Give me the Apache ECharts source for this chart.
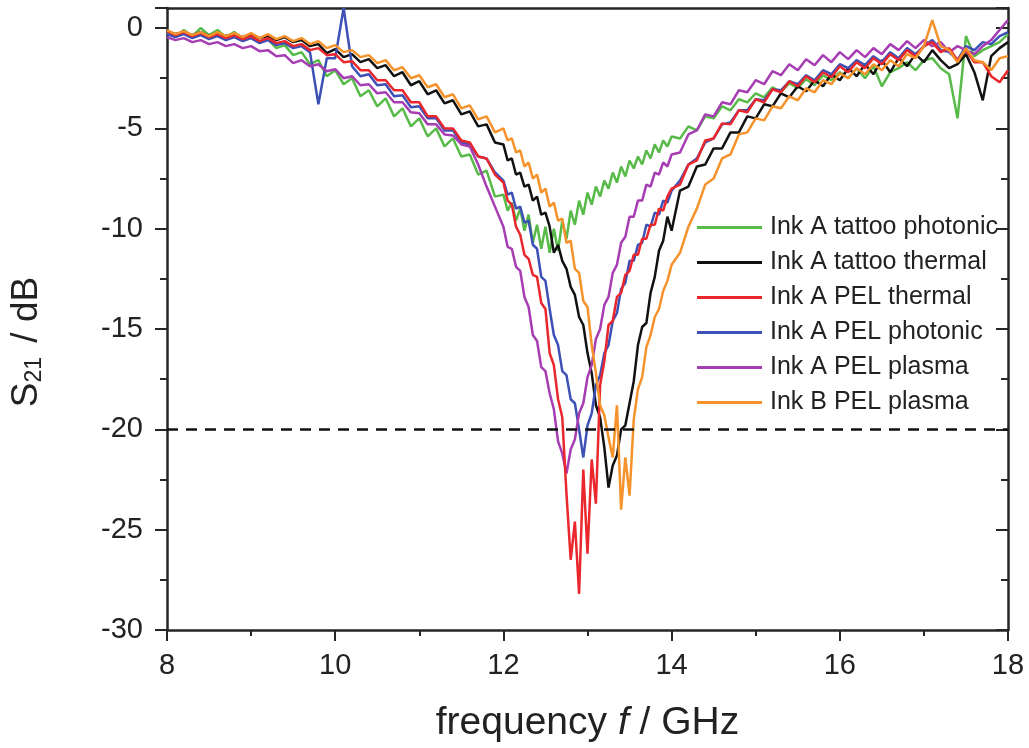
<!DOCTYPE html>
<html lang="en">
<head>
    <meta charset="UTF-8">
    <title>S21 vs frequency</title>
    <script src="https://cdn.jsdelivr.net/npm/echarts@6/dist/echarts.min.js"></script>
    <style>
        html, body { margin: 0; padding: 0; background: #fff; }
    </style>
</head>
<body>
<div id="main" style="width: 1029px;height:748px;"></div>
<script type="text/javascript">
    // frequency grid in GHz (denser around the resonance)
    var freq = [
        8.0, 8.1, 8.2, 8.3, 8.4, 8.5, 8.6, 8.7, 8.8, 8.9,
        9.0, 9.1, 9.2, 9.3, 9.4, 9.5, 9.6, 9.7, 9.8, 9.9,
        10.0, 10.1, 10.2, 10.3, 10.4, 10.5, 10.6, 10.7, 10.8, 10.9,
        11.0, 11.1, 11.2, 11.3, 11.4, 11.5, 11.6, 11.7, 11.8, 11.9,
        12.0, 12.05, 12.1, 12.15, 12.2, 12.25, 12.3, 12.35, 12.4, 12.45,
        12.5, 12.55, 12.6, 12.65, 12.7, 12.75, 12.8, 12.85, 12.9, 12.95,
        13.0, 13.05, 13.1, 13.15, 13.2, 13.25, 13.3, 13.35, 13.4, 13.45,
        13.5, 13.55, 13.6, 13.65, 13.7, 13.75, 13.8, 13.85, 13.9, 13.95,
        14.0, 14.1, 14.2, 14.3, 14.4, 14.5, 14.6, 14.7, 14.8, 14.9,
        15.0, 15.1, 15.2, 15.3, 15.4, 15.5, 15.6, 15.7, 15.8, 15.9,
        16.0, 16.1, 16.2, 16.3, 16.4, 16.5, 16.6, 16.7, 16.8, 16.9,
        17.0, 17.1, 17.2, 17.3, 17.4, 17.5, 17.6, 17.7, 17.8, 17.9,
        18.0
    ];

    // S21 in dB, one array per sample
    var tattooPhotonic = [
        -0.2, -0.45, -0.1, -0.4, 0.0, -0.35, -0.1, -0.45, -0.2, -0.55,
        -0.35, -0.7, -0.55, -1.0, -0.85, -1.35, -1.2, -1.8, -1.6, -2.4,
        -2.1, -2.8, -2.5, -3.4, -3.1, -3.9, -3.5, -4.4, -4.0, -4.9,
        -4.5, -5.4, -5.0, -5.9, -5.5, -6.4, -6.3, -7.3, -7.1, -8.4,
        -8.3, -9.1, -8.7, -9.6, -9.0, -10.1, -9.3, -10.7, -9.8, -11.0,
        -9.9, -11.2, -10.0, -11.1, -9.6, -10.5, -9.1, -9.8, -8.6, -9.3,
        -8.2, -8.8, -7.9, -8.4, -7.6, -8.0, -7.2, -7.7, -6.9, -7.4,
        -6.6, -7.0, -6.4, -6.8, -6.1, -6.5, -5.8, -6.2, -5.6, -5.9,
        -5.4, -5.5, -4.9, -5.1, -4.4, -4.5, -3.9, -4.1, -3.55, -3.7,
        -3.25, -3.45, -2.95, -3.2, -2.75, -3.0, -2.55, -2.85, -2.35, -2.6,
        -2.2, -2.5, -2.0, -2.5, -1.9, -2.9, -2.2, -2.0, -1.7, -2.1,
        -1.6, -1.5, -2.0, -2.3, -4.5, -0.4, -1.4, -1.1, -0.9, -0.7,
        -0.3
    ];
    var tattooThermal = [
        -0.15, -0.3, -0.2, -0.35, -0.2, -0.4, -0.25, -0.4, -0.3, -0.45,
        -0.3, -0.5, -0.4, -0.6, -0.45, -0.7, -0.6, -0.9, -0.8, -1.25,
        -1.05, -1.45, -1.3, -1.7, -1.55, -2.0, -1.85, -2.4, -2.2, -2.85,
        -2.65, -3.3, -3.1, -3.75, -3.6, -4.3, -4.15, -4.9, -4.8, -5.7,
        -5.8, -6.6, -6.5, -7.3, -7.2, -7.9, -7.8, -8.6, -8.4, -9.3,
        -9.2, -9.9, -11.2, -10.8, -11.6, -12.0, -12.9, -13.3, -14.4, -14.8,
        -16.2, -17.2, -18.8, -19.4, -20.9, -22.9, -21.8, -21.3, -20.0, -19.8,
        -18.7, -17.6, -15.8, -14.9, -14.7, -13.2, -12.4, -11.1, -10.6, -9.4,
        -10.1, -8.1, -7.9, -6.9, -6.8, -6.0, -6.0, -5.2, -5.2, -4.4,
        -4.5, -3.8, -3.9, -3.25, -3.45, -2.9, -3.15, -2.6, -2.9, -2.3,
        -2.6, -2.0, -2.4, -1.8, -2.3, -1.6, -2.2, -1.5, -1.9, -1.3,
        -1.7, -1.1, -1.6, -2.0, -1.8, -1.3, -2.2, -3.6, -1.4, -1.0,
        -0.7
    ];
    var pelThermal = [
        -0.15, -0.35, -0.2, -0.4, -0.25, -0.45, -0.3, -0.5, -0.35, -0.55,
        -0.4, -0.65, -0.5, -0.75, -0.65, -0.9, -0.8, -1.1, -1.0, -1.35,
        -1.3, -1.7, -1.65, -2.1, -2.1, -2.6, -2.6, -3.1, -3.1, -3.7,
        -3.7, -4.4, -4.4, -5.0, -5.0, -5.6, -5.7, -6.4, -6.5, -7.3,
        -7.7, -8.6, -8.8, -9.9, -10.3, -11.3, -11.5, -12.3, -12.4, -13.7,
        -14.0, -16.2, -16.8, -18.5, -19.4, -23.2, -26.5, -24.6, -28.2, -22.0,
        -26.2, -21.5, -23.7, -17.8, -16.6, -14.8, -14.6, -13.4, -13.2, -12.3,
        -12.1, -11.3, -11.3, -10.5, -10.5, -9.8, -9.8, -9.0, -9.1, -8.4,
        -8.0, -7.8, -6.8, -6.6, -5.6, -5.5, -4.75, -4.8, -4.1, -4.2,
        -3.55, -3.7, -3.05, -3.2, -2.65, -2.9, -2.4, -2.7, -2.2, -2.45,
        -1.9, -2.2, -1.7, -2.0, -1.5, -1.8, -1.3, -1.6, -1.1, -1.4,
        -0.9, -0.7, -1.2, -1.0, -1.6, -1.1, -1.7, -1.7, -2.4, -2.7,
        -2.1
    ];
    var pelPhotonic = [
        -0.3, -0.45, -0.3, -0.5, -0.35, -0.55, -0.4, -0.6, -0.45, -0.65,
        -0.5, -0.75, -0.6, -0.85, -0.75, -1.0, -0.9, -1.2, -3.8, -1.5,
        -1.5, 1.0, -1.9, -2.4, -2.3, -2.85, -2.8, -3.4, -3.35, -3.95,
        -3.9, -4.5, -4.5, -5.1, -5.1, -5.7, -5.8, -6.4, -6.5, -7.2,
        -7.6, -8.3, -8.2, -9.0, -8.9, -9.7, -9.6, -10.8, -11.0, -12.4,
        -12.6, -14.0, -15.3, -15.8, -17.1, -17.3, -18.5, -18.7, -20.0, -21.4,
        -19.8, -19.2, -17.8, -17.3, -16.2, -15.8, -14.6, -14.2, -13.0, -12.7,
        -11.6, -11.6, -10.8, -10.7, -9.8, -9.9, -9.2, -9.3, -8.6, -8.7,
        -8.1, -7.6, -6.8, -6.5, -5.7, -5.5, -4.8, -4.7, -4.1, -4.1,
        -3.55, -3.6, -3.05, -3.1, -2.65, -2.8, -2.35, -2.6, -2.1, -2.3,
        -1.8, -2.0, -1.6, -1.85, -1.4, -1.7, -1.2, -1.5, -1.0, -1.3,
        -0.9, -0.6, -1.1, -1.2, -1.6, -0.9, -1.1, -0.7, -0.8, -0.4,
        -0.2
    ];
    var pelPlasmaA = [
        -0.45, -0.6, -0.5, -0.7, -0.6, -0.8, -0.7, -0.9, -0.8, -1.0,
        -0.9, -1.15, -1.1, -1.4, -1.35, -1.75, -1.6, -1.9, -1.8, -2.15,
        -2.05, -2.5, -2.4, -2.85, -2.8, -3.25, -3.2, -3.7, -3.7, -4.2,
        -4.25, -4.8, -4.8, -5.3, -5.35, -5.8, -5.9, -6.8, -7.9, -8.9,
        -9.9, -10.9, -11.0, -11.9, -12.1, -13.4, -13.9, -15.3, -15.6, -16.9,
        -17.1, -18.2, -19.0, -20.6, -21.2, -22.2, -21.0, -20.5, -19.2, -18.7,
        -17.4, -16.8, -15.5, -15.0, -13.8, -13.4, -12.2, -11.8, -10.7, -10.4,
        -9.4, -9.4, -8.6, -8.6, -7.8, -7.9, -7.2, -7.3, -6.7, -6.9,
        -6.3, -6.2, -5.3, -5.1, -4.3, -4.4, -3.7, -3.8, -3.1, -3.2,
        -2.6, -2.8, -2.15, -2.35, -1.8, -2.1, -1.55, -1.85, -1.35, -1.7,
        -1.2, -1.55, -1.1, -1.45, -1.0, -1.3, -0.8, -1.1, -0.65, -1.0,
        -0.6, -0.9, -0.7, -1.2, -0.9, -1.1, -1.3, -0.9, -0.6, -0.1,
        0.4
    ];
    var pelPlasmaB = [
        -0.1, -0.3, -0.15, -0.35, -0.2, -0.4, -0.2, -0.4, -0.25, -0.45,
        -0.25, -0.5, -0.3, -0.55, -0.4, -0.65, -0.5, -0.8, -0.65, -1.0,
        -0.85, -1.2, -1.1, -1.45, -1.35, -1.75, -1.6, -2.1, -1.95, -2.5,
        -2.35, -2.95, -2.8, -3.45, -3.3, -4.0, -3.85, -4.55, -4.4, -5.2,
        -5.0, -5.6, -5.5, -6.2, -6.1, -6.9, -6.7, -7.5, -7.3, -8.2,
        -8.0, -8.9, -8.7, -9.6, -9.5, -10.7, -10.6, -12.0, -12.2, -13.6,
        -13.9, -15.8, -17.2, -18.8, -19.3, -20.4, -21.4, -18.8, -24.0, -21.4,
        -23.3, -19.5, -18.0, -17.4, -15.9, -15.3, -14.4, -14.0, -13.1, -12.6,
        -11.8, -11.2, -9.9, -9.0, -7.8, -7.5, -6.5, -6.3, -5.3, -5.2,
        -4.5, -4.6, -3.9, -4.0, -3.4, -3.6, -3.0, -3.2, -2.6, -2.8,
        -2.25, -2.5, -2.0, -2.3, -1.8, -2.1, -1.6, -1.9, -1.3, -1.5,
        -0.9, 0.4, -0.9, -1.1, -1.7, -1.0, -1.6, -1.7, -2.1, -1.5,
        -1.4
    ];

    var seriesNames = [
        'Ink A tattoo photonic',
        'Ink A tattoo thermal',
        'Ink A PEL thermal',
        'Ink A PEL photonic',
        'Ink A PEL plasma',
        'Ink B PEL plasma'
    ];
    var seriesValues = [tattooPhotonic, tattooThermal, pelThermal, pelPhotonic, pelPlasmaA, pelPlasmaB];
    var seriesColors = ['#58bb49', '#111111', '#e9272d', '#3c50b6', '#a63db3', '#f5922c'];
    // drawing order (bottom to top)
    var drawOrder = [0, 1, 3, 4, 2, 5];

    var threshold = -20;
    var xTicks = { min: 8, max: 18, step: 2 };
    var yTicks = { min: -30, max: 1, step: 5 };

    function pairs(ys) {
        var out = [];
        for (var i = 0; i < freq.length; i++) {
            out.push([freq[i], ys[i]]);
        }
        return out;
    }

    var myChart = echarts.init(document.getElementById('main'), null, { renderer: 'canvas' });

    var axisColor = '#262626';
    var font = 'Liberation Sans, Arial, Helvetica, sans-serif';

    var series = [];
    for (var k = 0; k < drawOrder.length; k++) {
        var idx = drawOrder[k];
        series.push({
            name: seriesNames[idx],
            type: 'line',
            data: pairs(seriesValues[idx]),
            showSymbol: false,
            symbol: 'none',
            lineStyle: { width: 2.5, color: seriesColors[idx] },
            itemStyle: { color: seriesColors[idx] },
            z: 2 + k
        });
    }
    // dashed -20 dB level
    series[0].markLine = {
        silent: true,
        symbol: 'none',
        label: { show: false },
        lineStyle: { color: '#111', type: [11, 8], width: 2.5 },
        data: [{ yAxis: threshold }],
        z: 10
    };

    myChart.setOption({
        animation: false,
        backgroundColor: '#ffffff',
        textStyle: { fontFamily: font },
        grid: { left: 167, right: 21, top: 8, bottom: 105, containLabel: false },
        legend: {
            data: seriesNames,
            orient: 'vertical',
            left: 697,
            top: 215,
            padding: 0,
            itemWidth: 65,
            itemHeight: 3,
            itemGap: 10,
            icon: 'rect',
            textStyle: { fontSize: 25, color: '#222', fontFamily: font, padding: [0, 0, 0, 3] },
            selectedMode: false
        },
        xAxis: [{
            type: 'value',
            min: xTicks.min,
            max: xTicks.max,
            interval: xTicks.step,
            name: '{t|frequency }{i|f}{t| / GHz}',
            nameLocation: 'middle',
            nameGap: 74,
            nameTextStyle: {
                rich: {
                    t: { fontSize: 39, color: '#222', fontFamily: font },
                    i: { fontSize: 39, color: '#222', fontStyle: 'italic', fontFamily: font }
                }
            },
            axisLine: { onZero: false, lineStyle: { color: axisColor, width: 2.5 } },
            axisTick: { inside: false, length: 11, lineStyle: { color: axisColor, width: 2 } },
            minorTick: { show: true, splitNumber: 2, length: 6, lineStyle: { color: axisColor, width: 2 } },
            axisLabel: { fontSize: 29, color: '#222', margin: 21, fontFamily: font },
            splitLine: { show: false }
        }, {
            type: 'value',
            position: 'top',
            min: xTicks.min,
            max: xTicks.max,
            interval: xTicks.step,
            axisLine: { onZero: false, lineStyle: { color: axisColor, width: 2.5 } },
            axisTick: { show: false },
            minorTick: { show: false },
            axisLabel: { show: false },
            splitLine: { show: false }
        }],
        yAxis: [{
            type: 'value',
            min: yTicks.min,
            max: yTicks.max,
            interval: yTicks.step,
            name: '{s|S}{sub|21}{s| / dB}',
            nameLocation: 'middle',
            nameGap: 121,
            nameRotate: 90,
            nameTextStyle: {
                padding: [0, 46, 0, 0],
                rich: {
                    s: { fontSize: 37, color: '#222', fontFamily: font },
                    sub: { fontSize: 23, color: '#222', fontFamily: font, padding: [16, 4, 0, 0] }
                }
            },
            axisLine: { onZero: false, lineStyle: { color: axisColor, width: 2.5 } },
            axisTick: { inside: false, length: 12, lineStyle: { color: axisColor, width: 2 } },
            minorTick: { show: true, splitNumber: 2, length: 7, lineStyle: { color: axisColor, width: 2 } },
            axisLabel: {
                fontSize: 29, color: '#222', margin: 24, fontFamily: font,
                formatter: function (v) { return v % 5 === 0 ? String(v) : ''; }
            },
            splitLine: { show: false }
        }, {
            type: 'value',
            position: 'right',
            min: yTicks.min,
            max: yTicks.max,
            interval: yTicks.step,
            axisLine: { onZero: false, lineStyle: { color: axisColor, width: 2.5 } },
            axisTick: { inside: true, length: 12, lineStyle: { color: axisColor, width: 2 } },
            minorTick: { show: true, splitNumber: 2, length: 7, lineStyle: { color: axisColor, width: 2 } },
            axisLabel: { show: false },
            splitLine: { show: false }
        }],
        series: series
    });
</script>
</body>
</html>
